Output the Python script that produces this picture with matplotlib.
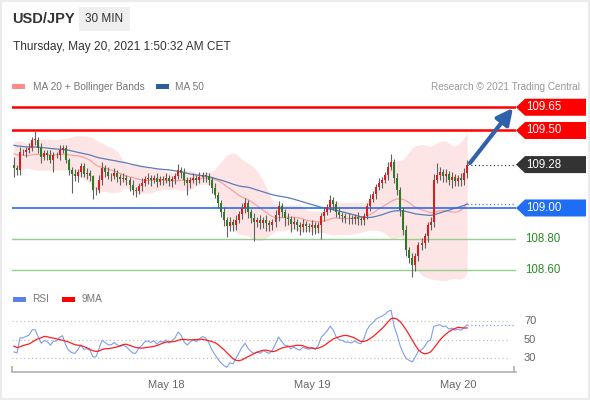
import numpy as np
import pandas as pd
import matplotlib
matplotlib.use("Agg")
import matplotlib.pyplot as plt
import matplotlib.dates as mdates
from matplotlib.patches import Polygon, Rectangle

plt.rcParams['font.family'] = ['Liberation Sans', 'DejaVu Sans']

# closes before the visible window (only used to warm up MA / BB / RSI)
prior_close = [109.46, 109.48, 109.45, 109.47, 109.44, 109.42, 109.45, 109.47, 109.44, 109.41,
               109.43, 109.46, 109.44, 109.42, 109.45, 109.43, 109.40, 109.42, 109.45, 109.47,
               109.44, 109.46, 109.43, 109.41, 109.44, 109.46, 109.43, 109.45, 109.42, 109.44,
               109.40, 109.37, 109.39, 109.42, 109.38, 109.35, 109.37, 109.40, 109.36, 109.33,
               109.35, 109.38, 109.34, 109.31, 109.33, 109.36, 109.32, 109.30, 109.28]

# 30 min closes, May 16 23:00 -> May 20 01:30
close = [109.258, 109.245, 109.361, 109.361, 109.374, 109.387, 109.439, 109.439, 109.387, 109.329,
         109.355, 109.342, 109.310, 109.342, 109.342, 109.374, 109.387, 109.310, 109.245, 109.219,
         109.206, 109.232, 109.271, 109.219, 109.226, 109.206, 109.116, 109.116, 109.181, 109.258,
         109.232, 109.206, 109.206, 109.226, 109.200, 109.187, 109.194, 109.181, 109.148, 109.116,
         109.110, 109.142, 109.161, 109.187, 109.194, 109.181, 109.194, 109.168, 109.187, 109.181,
         109.194, 109.174, 109.187, 109.206, 109.245, 109.226, 109.181, 109.161, 109.181, 109.194,
         109.181, 109.200, 109.213, 109.206, 109.181, 109.129, 109.084, 109.032, 108.974, 108.923,
         108.884, 108.910, 108.890, 108.923, 108.961, 109.000, 109.032, 108.974, 108.935, 108.910,
         108.923, 108.903, 108.923, 108.903, 108.890, 108.910, 108.955, 109.013, 108.974, 108.935,
         108.929, 108.897, 108.910, 108.890, 108.877, 108.897, 108.884, 108.877, 108.890, 108.871,
         108.890, 108.948, 108.974, 109.006, 109.052, 109.026, 108.974, 108.955, 108.948, 108.935,
         108.935, 108.929, 108.942, 108.929, 108.923, 108.948, 109.013, 109.058, 109.090, 109.135,
         109.161, 109.181, 109.213, 109.265, 109.297, 109.194, 109.116, 108.987, 108.858, 108.729,
         108.677, 108.632, 108.690, 108.761, 108.774, 108.819, 108.890, 108.910, 109.181, 109.213,
         109.232, 109.206, 109.219, 109.181, 109.200, 109.174, 109.194, 109.181, 109.226, 109.280]

# wick lengths in pips above / below the body
hi_pips = [5, 2, 3, 2, 2, 3, 2, 6, 2, 3, 2, 2, 3, 2, 2, 3, 2, 2, 1, 2,
           3, 2, 2, 2, 3, 2, 1, 2, 3, 4, 2, 3, 2, 3, 2, 2, 3, 2, 2, 3,
           2, 2, 3, 2, 3, 2, 2, 3, 2, 2, 3, 2, 2, 2, 4, 2, 3, 2, 2, 3,
           2, 3, 2, 2, 2, 2, 3, 2, 2, 3, 2, 3, 2, 3, 2, 3, 3, 2, 2, 3,
           2, 3, 2, 3, 2, 2, 3, 3, 2, 2, 3, 2, 3, 2, 2, 3, 2, 2, 3, 2,
           2, 2, 3, 2, 3, 2, 2, 3, 2, 2, 3, 2, 2, 3, 2, 2, 2, 3, 2, 2,
           3, 2, 2, 3, 5, 2, 3, 2, 2, 3, 2, 3, 2, 2, 3, 2, 2, 3, 4, 8,
           3, 2, 3, 2, 3, 2, 2, 3, 3, 3]
lo_pips = [6, 3, 3, 2, 3, 2, 2, 3, 3, 4, 2, 3, 2, 8, 2, 3, 2, 2, 3, 12,
           3, 4, 3, 2, 3, 3, 6, 3, 2, 3, 3, 2, 3, 2, 3, 4, 2, 3, 4, 3,
           4, 2, 3, 2, 3, 4, 2, 3, 2, 3, 2, 3, 4, 3, 2, 3, 3, 8, 3, 2,
           3, 2, 3, 4, 3, 3, 2, 3, 3, 4, 7, 3, 4, 3, 2, 3, 3, 4, 3, 12,
           3, 4, 3, 5, 4, 3, 3, 4, 3, 5, 4, 5, 3, 4, 5, 3, 4, 3, 5, 4,
           3, 9, 3, 2, 3, 4, 3, 2, 4, 3, 4, 3, 3, 4, 3, 3, 2, 3, 2, 3,
           2, 3, 2, 3, 2, 3, 3, 4, 3, 4, 3, 8, 4, 3, 3, 3, 4, 3, 3, 2,
           3, 4, 4, 3, 5, 3, 3, 4, 3, 3]

first_candle = '2021-05-16 23:00'
resistances = [109.65, 109.50]
pivot = 109.00
supports = [108.80, 108.60]
last_price = 109.28
day_ticks = ['2021-05-18', '2021-05-19', '2021-05-20']
day_labels = ['May 18', 'May 19', 'May 20']
rsi_levels = [30, 50, 70]

W, H = 590, 400
fig = plt.figure(figsize=(W / 100, H / 100), dpi=100)


def fx(px):
    return px / W


def fy(py):
    return 1 - py / H


# --- indicators ---
n0 = len(prior_close)
s = pd.Series(prior_close + close)
t0 = pd.Timestamp(first_candle) - pd.Timedelta(minutes=30 * n0)
times = pd.date_range(t0, periods=len(s), freq='30min')
xall = mdates.date2num(times)

ma20 = s.rolling(20).mean()
sd20 = s.rolling(20).std(ddof=0)
bb_up = ma20 + 2 * sd20
bb_lo = ma20 - 2 * sd20
ma50 = s.rolling(50).mean()

delta = s.diff()
gain = delta.clip(lower=0).ewm(alpha=1 / 14, adjust=False).mean()
loss = (-delta.clip(upper=0)).ewm(alpha=1 / 14, adjust=False).mean()
rsi = 100 - 100 / (1 + gain / loss)
rsi9 = rsi.rolling(9).mean()

xv = xall[n0:]
c = np.array(close)
o = np.r_[prior_close[-1], c[:-1]]
hi = np.maximum(o, c) + np.array(hi_pips) * 0.01
lo = np.minimum(o, c) - np.array(lo_pips) * 0.01

day0 = mdates.date2num(pd.Timestamp(day_ticks[0]))
x_left = day0 - 154 / 146
x_right = day0 + 350 / 146


def x_at(px):
    return x_left + (px - 12) / 504 * (x_right - x_left)


# --- price panel ---
ymin, ymax = 108.503, 109.729
ax = fig.add_axes([fx(12), fy(285), fx(504), 190 / H])
ax.set_xlim(x_left, x_right)
ax.set_ylim(ymin, ymax)
ax.axis('off')

ax.fill_between(xv, bb_lo[n0:], bb_up[n0:], color='#fde5e5', lw=0, zorder=1)
ax.plot(xv, ma20[n0:], color='#f4a3a3', lw=0.9, zorder=2)
ax.plot(xv, ma50[n0:], color='#5a7cba', lw=0.9, zorder=2)

for r in resistances:
    ax.axhline(r, color='#ff0000', lw=1.8, zorder=3)
ax.axhline(pivot, color='#2a6cf0', lw=1.2, zorder=3)
for sp in supports:
    ax.axhline(sp, color='#95d08f', lw=1.0, zorder=3)

body = c - o
body = np.where(np.abs(body) < 0.003, 0.003, body)
cols = np.where(c >= o, '#d81f1f', '#2f7a26')
ax.vlines(xv, lo, hi, color='#606060', lw=0.8, zorder=4)
ax.bar(xv, body, bottom=o, width=0.65 / 48, color=cols, lw=0, zorder=5)

ax.plot([xv[-1], x_at(516)], [last_price, last_price], ls=(0, (1, 2)), color='#444444', lw=0.9, zorder=3)
ax.plot([xv[-1], x_at(516)], [ma50.iloc[-1]] * 2, ls=(0, (1, 2)), color='#5a7cba', lw=0.9, zorder=3)

ax.annotate('', xy=(x_at(513), 109.645), xytext=(x_at(470), 109.29),
            arrowprops=dict(arrowstyle='-|>,head_length=0.6,head_width=0.3',
                            lw=3, color='#2f62a8', mutation_scale=16, shrinkA=0, shrinkB=0),
            annotation_clip=False, zorder=6)


def py_of(price):
    return 95 + (ymax - price) / (ymax - ymin) * 190


def tag(price, fc):
    yc = py_of(price)
    pts = [(516, yc), (525, yc - 8.5), (586, yc - 8.5), (586, yc + 8.5), (525, yc + 8.5)]
    fig.add_artist(Polygon([(fx(a), fy(b)) for a, b in pts], closed=True,
                           transform=fig.transFigure, fc=fc, ec='none'))
    fig.text(fx(526), fy(yc), '%.2f' % price, color='white', fontsize=8.3, va='center')


for r in resistances:
    tag(r, '#ff0000')
tag(last_price, '#333333')
tag(pivot, '#1f6cf5')
for sp in supports:
    fig.text(fx(525), fy(py_of(sp)), '%.2f' % sp, color='#2a8a2a', fontsize=8.3, va='center')

# --- RSI panel ---
ax2 = fig.add_axes([fx(12), fy(372), fx(504), 62 / H])
ax2.set_xlim(x_left, x_right)
ax2.set_ylim(14.9, 81.9)
for k in ['top', 'left', 'right']:
    ax2.spines[k].set_visible(False)
ax2.spines['bottom'].set_color('#b0b0b0')
ax2.spines['bottom'].set_linewidth(1.2)
ax2.set_yticks([])
ax2.set_xticks(mdates.date2num(pd.to_datetime(day_ticks)))
ax2.set_xticklabels(day_labels)
ax2.tick_params(axis='x', length=0, pad=6, labelsize=8, labelcolor='#666666')
ax2.hlines(rsi_levels, x_left, x_at(510), colors='#bbbbbb', linestyles=(0, (1, 2.5)), lw=0.8)
ax2.vlines([x_left, x_at(514)], 14.9, 21.5, colors='#b0b0b0', lw=1.2, clip_on=False)
ax2.plot(xv, rsi[n0:], color='#7d9ded', lw=0.8)
ax2.plot(xv, rsi9[n0:], color='#ff2020', lw=0.9)
ax2.plot([xv[-1], x_at(516)], [rsi.iloc[-1]] * 2, ls=(0, (1, 2)), color='#7d9ded', lw=0.9)
for lv in rsi_levels:
    fig.text(fx(524), fy(372 - (lv - 14.9) * 62 / 67), str(lv), color='#666666', fontsize=8, va='center')

# --- header and legends ---
fig.text(fx(12), fy(19), 'USD/JPY', fontsize=10.5, weight='bold', color='#333333', va='center')
fig.add_artist(Rectangle((fx(79), fy(31)), fx(51), 24 / H, transform=fig.transFigure, fc='#efefef', ec='none'))
fig.text(fx(104.5), fy(19), '30 MIN', ha='center', va='center', fontsize=8.5, color='#333333')
fig.text(fx(13), fy(47), 'Thursday, May 20, 2021 1:50:32 AM CET', fontsize=8.6, color='#333333', va='center')

fig.add_artist(Rectangle((fx(12), fy(89)), fx(13), 5 / H, transform=fig.transFigure, fc='#ff8a8a', ec='none'))
fig.text(fx(33), fy(86.5), 'MA 20 + Bollinger Bands', fontsize=7.3, color='#777777', va='center')
fig.add_artist(Rectangle((fx(156), fy(89)), fx(13), 5 / H, transform=fig.transFigure, fc='#2e5c9e', ec='none'))
fig.text(fx(175), fy(86.5), 'MA 50', fontsize=7.3, color='#777777', va='center')
fig.text(fx(580), fy(86.5), 'Research \u00a9 2021 Trading Central', fontsize=7.2, color='#999999',
         va='center', ha='right')

fig.add_artist(Rectangle((fx(13), fy(301.5)), fx(13), 5 / H, transform=fig.transFigure, fc='#5b80e6', ec='none'))
fig.text(fx(32), fy(299), 'RSI', fontsize=7.3, color='#777777', va='center')
fig.add_artist(Rectangle((fx(62), fy(301.5)), fx(13), 5 / H, transform=fig.transFigure, fc='#ff0000', ec='none'))
fig.text(fx(82), fy(299), '9MA', fontsize=7.3, color='#777777', va='center')

fig.add_artist(Rectangle((0, 0), 1, 1, transform=fig.transFigure, fill=False, ec='#ececec', lw=3))

fig.savefig('out.png', dpi=100)
